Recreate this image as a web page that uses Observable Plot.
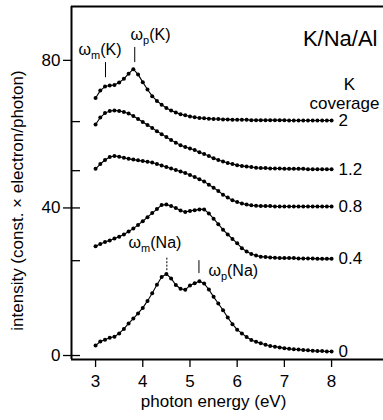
<!DOCTYPE html>
<html>
<head>
<meta charset="utf-8">
<script src="https://cdn.jsdelivr.net/npm/d3@7"></script>
<script src="https://cdn.jsdelivr.net/npm/@observablehq/plot@0.6"></script>
<style>
  html, body { margin: 0; padding: 0; background: white; }
</style>
</head>
<body>
<div id="chart"></div>
<script>
const energy = [3.0,3.1,3.2,3.3,3.4,3.5,3.6,3.7,3.8,3.9,4.0,4.1,4.2,4.3,4.4,4.5,4.6,4.7,4.8,4.9,5.0,
  5.1,5.2,5.3,5.4,5.5,5.6,5.7,5.8,5.9,6.0,6.1,6.2,6.3,6.4,6.5,6.6,6.7,6.8,6.9,7.0,
  7.1,7.2,7.3,7.4,7.5,7.6,7.7,7.8,7.9,8.0];

const cov0 = [2.7,3.8,4.3,4.8,5.1,6.0,7.2,8.7,10.0,11.4,12.9,14.8,16.9,19.2,21.3,22.1,20.9,19.1,18.1,17.8,19.0,
  19.6,20.1,19.5,17.9,15.9,14.1,12.3,10.3,8.5,7.0,6.0,5.0,4.2,3.7,3.3,2.9,2.6,2.4,2.2,2.0,
  1.8,1.7,1.6,1.5,1.4,1.3,1.2,1.2,1.1,1.1];

const cov04 = [29.6,30.2,30.8,31.2,31.7,32.2,32.8,33.6,34.4,35.4,36.4,37.5,38.6,39.7,40.8,40.9,40.5,40.0,39.3,38.9,39.2,
  39.4,39.6,39.6,38.5,37.1,35.6,34.1,32.8,31.6,30.4,29.1,28.2,27.5,27.1,26.8,26.7,26.6,26.5,26.4,26.4,
  26.4,26.4,26.3,26.3,26.3,26.3,26.2,26.2,26.2,26.2];

const cov08 = [50.6,51.9,53.0,53.8,54.1,53.9,53.6,53.3,53.1,52.9,52.7,52.5,52.3,51.9,51.5,51.1,50.7,50.3,49.9,49.5,48.9,
  48.4,47.8,47.2,46.3,45.5,44.6,43.6,42.8,42.1,41.6,41.2,40.9,40.7,40.6,40.5,40.5,40.5,40.4,40.4,40.4,
  40.4,40.4,40.4,40.4,40.4,40.4,40.4,40.4,40.4,40.4];

const cov12 = [62.6,64.5,65.7,66.3,66.4,66.3,66.0,65.6,64.9,64.1,63.3,62.5,61.7,60.8,60.0,59.2,58.4,57.7,57.0,56.5,56.1,
  55.7,55.1,54.6,54.1,53.5,53.0,52.6,52.2,51.9,51.6,51.4,51.2,51.1,50.9,50.8,50.8,50.7,50.7,50.7,50.6,
  50.6,50.6,50.6,50.6,50.5,50.5,50.5,50.5,50.5,50.5];

const cov2 = [69.8,71.8,72.9,73.2,73.3,74.0,75.0,76.4,77.6,76.2,74.1,72.1,70.3,69.0,68.0,67.1,66.4,65.9,65.4,65.1,64.8,
  64.6,64.4,64.3,64.2,64.1,64.1,64.0,64.0,63.9,63.9,63.9,63.9,63.8,63.8,63.8,63.8,63.8,63.8,63.8,63.8,
  63.7,63.7,63.7,63.7,63.7,63.7,63.7,63.7,63.7,63.7];

const coverageLabels = ["0", "0.4", "0.8", "1.2", "2"];
const seriesList = [cov0, cov04, cov08, cov12, cov2];

const xTicks = [3, 4, 5, 6, 7, 8];
const yTicksLabeled = [0, 40, 80];
const yBaselineTicks = [0, 25.7, 40, 50.1, 63.4];

const annBase = ["ω", "ω", "ω", "ω"];
const annSub = ["m", "p", "m", "p"];
const annRest = ["(K)", "(K)", "(Na)", "(Na)"];
const annTextX = [2.64, 3.74, 3.70, 5.39];
const annTextY = [82.8, 86.9, 30.6, 23.0];
const annMarkX = [3.21, 3.83, 4.51, 5.19];
const annMarkY1 = [75.3, 79.4, 23.0, 22.2];
const annMarkY2 = [79.4, 83.5, 26.6, 25.7];
const annDashed = [false, false, true, false];

const rows = [];
seriesList.forEach((s, k) => s.forEach((v, i) => rows.push({coverage: coverageLabels[k], e: energy[i], v})));
const lastRows = seriesList.map((s, k) => ({coverage: coverageLabels[k], e: energy[energy.length - 1], v: s[s.length - 1]}));
const anns = annBase.map((b, i) => ({
  label: b + annSub[i] + annRest[i], base: b, sub: annSub[i], rest: annRest[i],
  tx: annTextX[i], ty: annTextY[i], mx: annMarkX[i], my1: annMarkY1[i], my2: annMarkY2[i], dashed: annDashed[i]
}));

const xDomain = [2.49, 9.1];
const yDomain = [-1.08, 94.6];
const W = 383, H = 420, mL = 71, mR = 0, mT = 6, mB = 61;
const font = "'Liberation Sans', Arial, Helvetica, sans-serif";

const chart = Plot.plot({
  width: W, height: H,
  marginLeft: mL, marginRight: mR, marginTop: mT, marginBottom: mB,
  x: {domain: xDomain},
  y: {domain: yDomain},
  style: {fontFamily: font, fontSize: "17px", color: "black", background: "white", overflow: "visible"},
  marks: [
    Plot.axisX({ticks: xTicks, tickFormat: d => String(d), tickSize: 8, tickPadding: 7, strokeWidth: 1.3, label: null, fontSize: 17}),
    Plot.axisY({ticks: yTicksLabeled, tickFormat: d => String(d), tickSize: 8, tickPadding: 3, strokeWidth: 1.3, label: null, fontSize: 17}),
    Plot.tickY(yBaselineTicks, {y: d => d, insetRight: (W - mL - mR) - 9, stroke: "black", strokeWidth: 1.3}),
    Plot.ruleX([xDomain[0]], {stroke: "black", strokeWidth: 2}),
    Plot.ruleY([yDomain[0], yDomain[1]], {stroke: "black", strokeWidth: 2}),
    Plot.line(rows, {x: "e", y: "v", z: "coverage", stroke: "black", strokeWidth: 1.1}),
    Plot.dot(rows, {x: "e", y: "v", r: 2, fill: "black", stroke: null}),
    Plot.text(lastRows, {x: "e", y: "v", text: "coverage", dx: 7, textAnchor: "start", fontSize: 17}),
    Plot.ruleX(anns.filter(d => !d.dashed), {x: "mx", y1: "my1", y2: "my2", stroke: "black", strokeWidth: 1}),
    Plot.ruleX(anns.filter(d => d.dashed), {x: "mx", y1: "my1", y2: "my2", stroke: "black", strokeWidth: 1, strokeDasharray: "2,1.5"}),
    Plot.text(anns, {x: "tx", y: "ty", text: "label", textAnchor: "start", fontSize: 16}),
    Plot.text(["K/Na/Al"], {frameAnchor: "top-right", dx: -6, dy: 24, textAnchor: "end", fontSize: 22}),
    Plot.text(["K"], {frameAnchor: "top-right", dx: -34, dy: 71, textAnchor: "middle", fontSize: 17}),
    Plot.text(["coverage"], {frameAnchor: "top-right", dx: -39, dy: 90, textAnchor: "middle", fontSize: 17}),
    Plot.text(["photon energy (eV)"], {x: [5.5], frameAnchor: "bottom", dy: 47, textAnchor: "middle", fontSize: 17}),
    Plot.text(["intensity (const. × electron/photon)"], {y: [42], frameAnchor: "left", dx: -54, rotate: -90, textAnchor: "middle", fontSize: 17})
  ]
});

// subscripts for the ω annotations
const annMap = new Map(anns.map(d => [d.label, d]));
d3.select(chart).selectAll("text").each(function() {
  const a = annMap.get(this.textContent);
  if (!a) return;
  const t = d3.select(this);
  t.text(null);
  t.append("tspan").text(a.base);
  t.append("tspan").attr("dy", "4").attr("font-size", "11").text(a.sub);
  t.append("tspan").attr("dy", "-4").text(a.rest);
});

document.getElementById("chart").appendChild(chart);
</script>
</body>
</html>
